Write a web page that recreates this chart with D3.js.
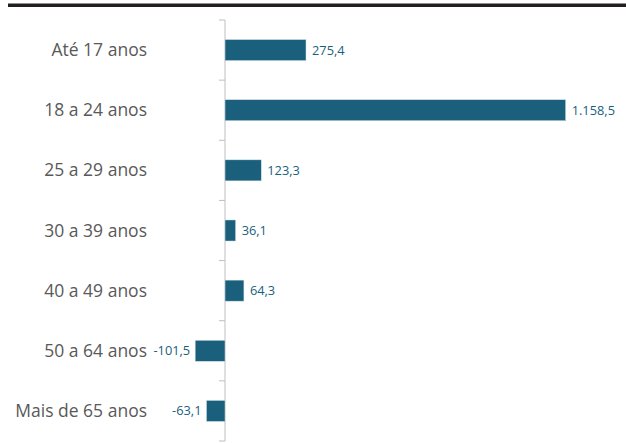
<!DOCTYPE html>
<html>
<head>
<meta charset="utf-8">
<script src="https://cdn.jsdelivr.net/npm/d3@7"></script>
<style>
  body { margin: 0; background: #fff; }
  svg { display: block; }
</style>
</head>
<body>
<svg id="chart" width="626" height="443"></svg>
<script>
// faixas etárias e saldo (mil)
const categories = ['Até 17 anos', '18 a 24 anos', '25 a 29 anos', '30 a 39 anos',
  '40 a 49 anos', '50 a 64 anos', 'Mais de 65 anos'];
const values = [275.4, 1158.5, 123.3, 36.1, 64.3, -101.5, -63.1];
const labels = ['275,4', '1.158,5', '123,3', '36,1', '64,3', '-101,5', '-63,1'];

const width = 626, height = 443;
const barColor = '#1a5f7c';

const svg = d3.select('#chart');

// top rule
svg.append('rect')
  .attr('x', 8).attr('y', 3.5)
  .attr('width', width - 8).attr('height', 3.5)
  .attr('fill', '#231f20');

const x = d3.scaleLinear().domain([-200, 1250]).range([166.2, 592.6]);
const y = d3.scaleBand().domain(categories).range([20, 441]).paddingInner(0.65).paddingOuter(0.325);

// axis line + ticks between bands
const band = d3.scaleBand().domain(categories).range([20, 441]);
svg.append('line')
  .attr('x1', x(0)).attr('x2', x(0))
  .attr('y1', 20).attr('y2', 441)
  .attr('stroke', '#bfbfbf').attr('stroke-width', 1);

const tickYs = categories.map(c => band(c)).concat([441]);
svg.selectAll('.tick')
  .data(tickYs)
  .enter().append('line')
  .attr('class', 'tick')
  .attr('x1', x(0) - 6).attr('x2', x(0))
  .attr('y1', d => d).attr('y2', d => d)
  .attr('stroke', '#bfbfbf').attr('stroke-width', 1);

// bars
svg.selectAll('.bar')
  .data(values)
  .enter().append('rect')
  .attr('class', 'bar')
  .attr('x', d => Math.min(x(0), x(d)))
  .attr('y', (d, i) => y(categories[i]))
  .attr('width', d => Math.abs(x(d) - x(0)))
  .attr('height', y.bandwidth())
  .attr('fill', barColor)
  .attr('stroke', '#d6e4ea').attr('stroke-width', 0.5);

// value labels
svg.selectAll('.val')
  .data(values)
  .enter().append('text')
  .attr('class', 'val')
  .attr('x', d => d >= 0 ? x(d) + 6 : x(d) - 5)
  .attr('y', (d, i) => band(categories[i]) + band.bandwidth() / 2)
  .attr('dy', '0.35em')
  .attr('text-anchor', d => d >= 0 ? 'start' : 'end')
  .attr('font-family', '"Open Sans", sans-serif')
  .attr('font-size', 12.8)
  .attr('fill', barColor)
  .text((d, i) => labels[i]);

// category labels
svg.selectAll('.cat')
  .data(categories)
  .enter().append('text')
  .attr('class', 'cat')
  .attr('x', 147)
  .attr('y', d => band(d) + band.bandwidth() / 2)
  .attr('dy', '0.35em')
  .attr('text-anchor', 'end')
  .attr('font-family', '"Open Sans", sans-serif')
  .attr('font-size', 17.5)
  .attr('fill', '#595959')
  .text(d => d);
</script>
</body>
</html>
